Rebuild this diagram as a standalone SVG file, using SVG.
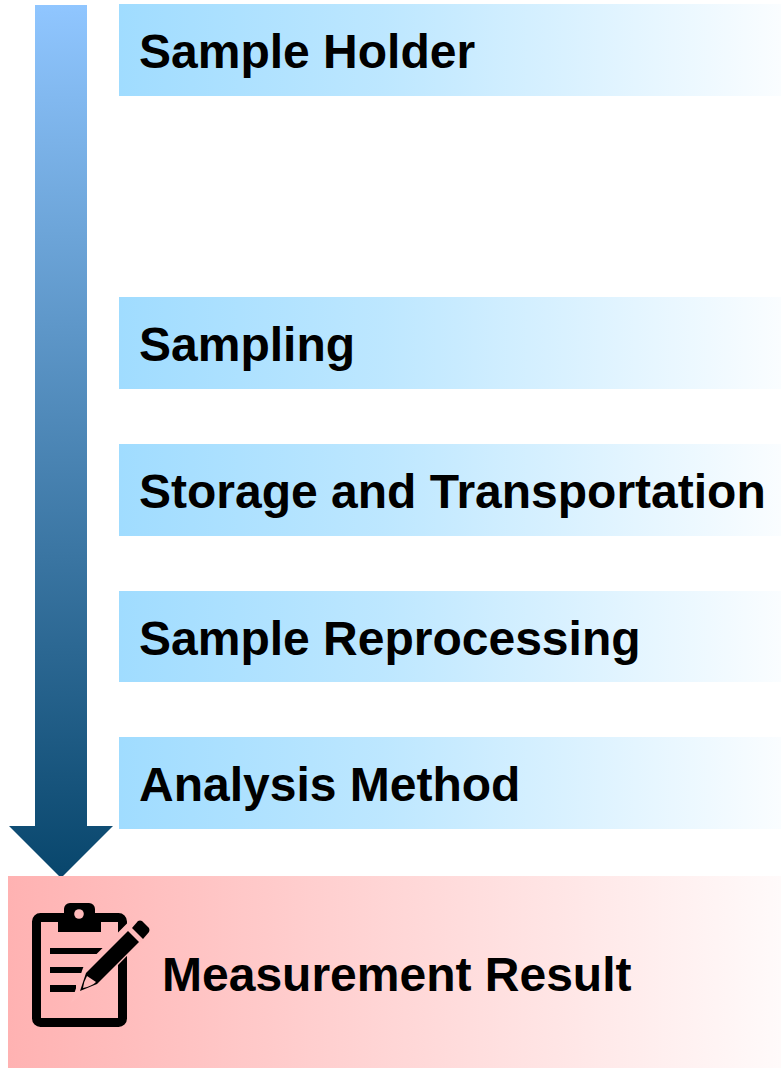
<svg xmlns="http://www.w3.org/2000/svg" width="781" height="1068" viewBox="0 0 781 1068">
<defs>
<linearGradient id="blue" x1="0" x2="1" y1="0" y2="0"><stop offset="0" stop-color="#a0dcff"/><stop offset="0.4" stop-color="#bde7ff"/><stop offset="1" stop-color="#fafdff"/></linearGradient>
<linearGradient id="red" x1="0" x2="1" y1="0" y2="0"><stop offset="0" stop-color="#ffb2b2"/><stop offset="1" stop-color="#fffafa"/></linearGradient>
<linearGradient id="arrow" x1="0" x2="0" y1="5" y2="878" gradientUnits="userSpaceOnUse"><stop offset="0" stop-color="#90c6ff"/><stop offset="1" stop-color="#08466c"/></linearGradient>
<style>.t{font-family:"Liberation Sans",Arial,sans-serif;font-weight:bold;font-size:48px;fill:#000}</style>
</defs>
<g id="connectors"><polygon points="35,5 87,5 87,826 113,826 61,878 9,826 35,826" fill="url(#arrow)"/></g>
<g id="sample-holder"><rect x="119" y="4" width="662" height="92" fill="url(#blue)"/><text class="t" x="139" y="68">Sample Holder</text></g>
<g id="sampling"><rect x="119" y="297" width="662" height="92" fill="url(#blue)"/><text class="t" x="139" y="361">Sampling</text></g>
<g id="storage"><rect x="119" y="444" width="662" height="92" fill="url(#blue)"/><text class="t" x="139" y="508">Storage and Transportation</text></g>
<g id="reprocessing"><rect x="119" y="591" width="662" height="91" fill="url(#blue)"/><text class="t" x="139" y="655">Sample Reprocessing</text></g>
<g id="analysis"><rect x="119" y="737" width="662" height="92" fill="url(#blue)"/><text class="t" x="139" y="801">Analysis Method</text></g>
<g id="result"><rect x="8" y="876" width="773" height="192" fill="url(#red)"/><text class="t" x="162" y="991">Measurement Result</text>
<rect x="36.500" y="917.500" width="86" height="105" rx="4" fill="none" stroke="#000" stroke-width="9"/>
<path d="M58 932V917.500H64V909a6 6 0 0 1 6-6H89a6 6 0 0 1 6 6V917.500H101V932z" fill="#000"/>
<circle cx="79" cy="914" r="4.800" fill="#ffbbbb"/>
<path d="M50 948h54v6H50zM50 967h36v6H50zM50 985h26v7H50z" fill="#000"/>
<path d="M73 1000L84 968L131 921L146 935L100 982z" fill="#ffbbbb" stroke="#ffbbbb" stroke-width="2"/>
<path d="M128 931L139 942L97 984L80 991L86 973z" fill="#000"/>
<path d="M87 976L96 982Q92 986 83 988Q84 981 87 976z" fill="#ffbbbb"/>
<path d="M132 928L138 921Q140 920 142 921L149 928Q150 930 149 932L143 939z" fill="#000"/>
</g>
</svg>
